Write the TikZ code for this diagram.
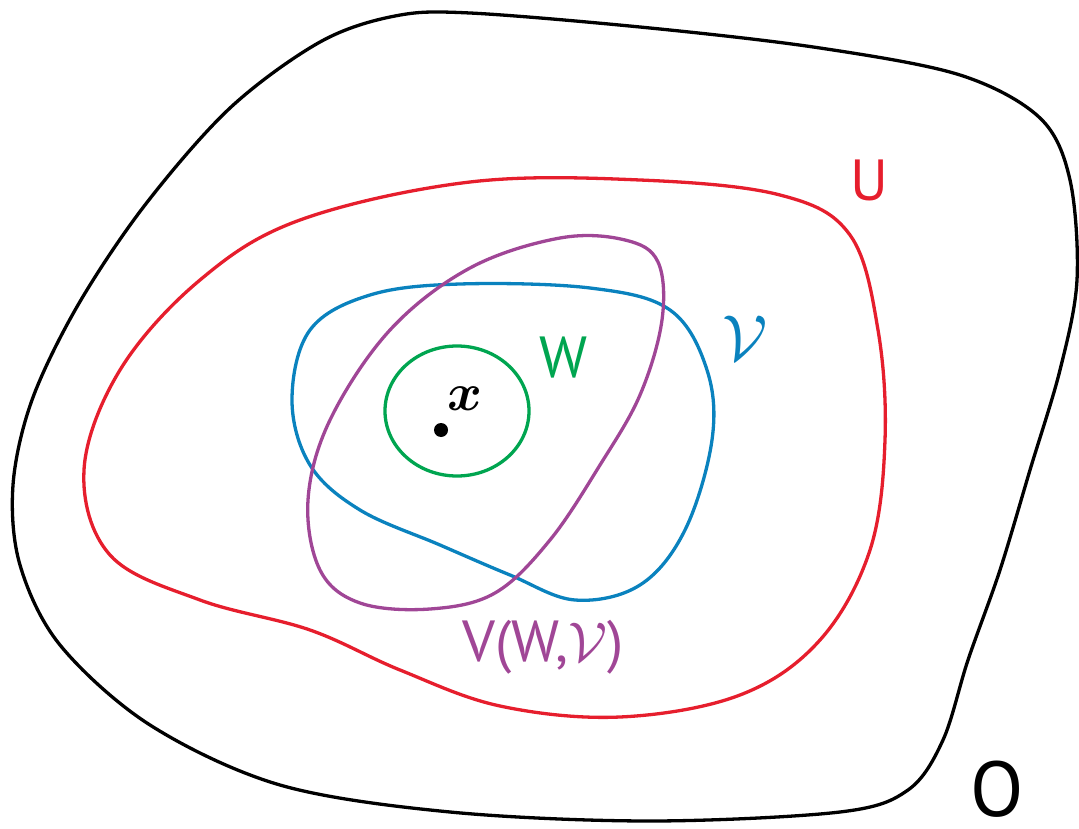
\documentclass[tikz,border=0pt]{standalone}
\usepackage{bm}
\usepackage{fontspec}
\setmainfont{PT Sans}
\newcommand{\bigmath}[2]{\scalebox{#1}{\fontsize{10}{12}\selectfont$#2$}}
\begin{document}
\begin{tikzpicture}[x=1pt,y=-1pt,
  curve/.style={line width=3.3pt, line join=round},
  lbl/.style={inner sep=0pt, font=\fontsize{58}{62}\selectfont}]
\definecolor{cU}{RGB}{230,30,45}
\definecolor{cV}{RGB}{10,130,190}
\definecolor{cW}{RGB}{0,165,80}
\definecolor{cP}{RGB}{160,70,150}
\useasboundingbox (0,0) rectangle (1079,829);
% outer O
\draw[curve,black] plot[smooth cycle,tension=0.55] coordinates {
 (470,13) (650,28) (820,48) (960,75) (1040,118) (1070,180) (1077,280)
 (1060,370) (1030,470) (1000,570) (968,660) (943,740) (908,790)
 (840,812) (650,821) (450,812) (280,785) (150,725) (60,645) (20,565)
 (13,485) (32,400) (78,305) (145,205) (230,108) (320,42) (395,16)};
% U
\draw[curve,cU] plot[smooth cycle,tension=0.6] coordinates {
 (470,182) (640,180) (780,195) (850,235) (878,330) (885,440) (870,550)
 (820,640) (740,695) (620,717) (500,706) (400,670) (310,630) (200,600)
 (110,555) (84,470) (120,370) (200,280) (300,220)};
% V
\draw[curve,cV] plot[smooth cycle,tension=0.6] coordinates {
 (460,284) (590,288) (670,310) (707,370) (712,440) (685,530) (640,585)
 (575,600) (510,575) (440,545) (360,510) (310,465) (292,400) (310,330)
 (370,295)};
% purple
\draw[curve,cP] plot[smooth cycle,tension=0.6] coordinates {
 (625,240) (658,262) (662,320) (640,395) (600,465) (550,540) (495,593)
 (430,609) (360,603) (320,570) (308,500) (330,420) (390,330) (470,268)
 (560,238)};
% W
\draw[curve,cW] (457,411) ellipse [x radius=72, y radius=65];
\fill (441,430) circle [radius=7];
\node[lbl] (x) at (465,399) {\bigmath{5.3}{\bm{x}}};
\node[lbl,text=cW] (W) at (564,358) {W};
\node[lbl,text=cU] (U) at (869,180) {U};
\node[lbl,text=cV] (V) at (745,338) {\bigmath{6.5}{\mathcal{V}}};
\node[lbl,text=cP] (P) at (543,647) {V(W,\bigmath{5.6}{\mathcal{V}})};
\node[lbl,font=\fontsize{78}{82}\selectfont] (O) at (997,789) {O};
\end{tikzpicture}
\end{document}
